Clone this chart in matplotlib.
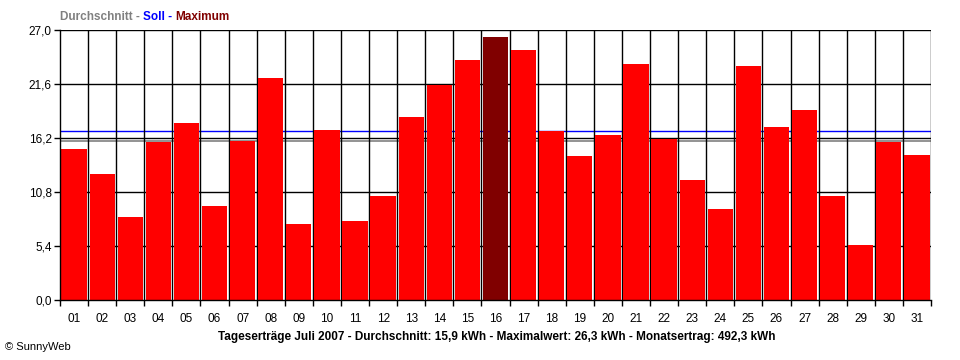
import numpy as np
import matplotlib
matplotlib.use("Agg")
import matplotlib.pyplot as plt
from matplotlib.ticker import FixedLocator, FuncFormatter

plt.rcParams['font.family'] = ['Liberation Sans', 'DejaVu Sans']

# Tageserträge Juli 2007 (kWh)
days = ["%02d" % d for d in range(1, 32)]
ertrag = [15.1, 12.6, 8.3, 15.8, 17.7, 9.4, 15.9, 22.2, 7.6, 17.0,
          7.9, 10.4, 18.3, 21.5, 24.0, 26.3, 25.0, 16.9, 14.4, 16.5,
          23.6, 16.1, 12.0, 9.1, 23.4, 17.3, 19.0, 10.4, 5.5, 15.8, 14.5]
durchschnitt = 15.9
soll = 16.9
yticks = [0.0, 5.4, 10.8, 16.2, 21.6, 27.0]

fig = plt.figure(figsize=(9.6, 3.6), dpi=100)
ax = fig.add_axes([60/960, 60/360, 871/960, 270/360])

x = np.arange(1, len(days) + 1)
imax = int(np.argmax(ertrag))
colors = ["#800000" if i == imax else "#FF0000" for i in range(len(ertrag))]

# grid
for yv in yticks[1:]:
    ax.axhline(yv, color="black", lw=1.0, zorder=1)
ax.axhline(soll, color="#0000FF", lw=1.0, zorder=1)
ax.axhline(durchschnitt, color="#808080", lw=1.2, zorder=1)
for xv in np.arange(1.5, len(days) + 0.5, 1):
    ax.axvline(xv, color="black", lw=1.0, zorder=1)
ax.axvline(len(days) + 0.5, color="black", lw=1.0, zorder=1)

ax.bar(x, ertrag, width=0.9, color=colors, zorder=2)

ax.set_xlim(0.5, len(days) + 0.5)
ax.set_ylim(0, 27.0)
ax.set_xticks(x)
ax.set_xticklabels(days)
ax.xaxis.set_minor_locator(FixedLocator(np.arange(0.5, len(days) + 1.5, 1)))
ax.tick_params(axis="x", which="major", length=0, pad=9, labelsize=8.5)
ax.tick_params(axis="x", which="minor", length=4, direction="out", width=1)
ax.set_yticks(yticks)
ax.yaxis.set_major_formatter(FuncFormatter(lambda v, p: ("%.1f" % v).replace(".", ",")))
ax.tick_params(axis="y", length=4, width=1, labelsize=8.5, pad=2)

for s in ["top", "right"]:
    ax.spines[s].set_visible(False)
for s in ["left", "bottom"]:
    ax.spines[s].set_color("black")
    ax.spines[s].set_linewidth(1.0)
    ax.spines[s].set_zorder(3)

# legend style header
t1 = fig.text(60/960, 1 - 17/360, "Durchschnitt - ", color="#808080",
              fontsize=8.5, fontweight="bold", va="center")
fig.canvas.draw()
r = fig.canvas.get_renderer()
bb = t1.get_window_extent(r)
t2 = fig.text(bb.x1/960, 1 - 17/360, "Soll - ", color="#0000FF",
              fontsize=8.5, fontweight="bold", va="center")
bb = t2.get_window_extent(r)
fig.text(bb.x1/960, 1 - 17/360, "Maximum", color="#800000",
         fontsize=8.5, fontweight="bold", va="center")

fig.text(497/960, 1 - 337/360,
         "Tageserträge Juli 2007 - Durchschnitt: 15,9 kWh - Maximalwert: 26,3 kWh - Monatsertrag: 492,3 kWh",
         ha="center", va="center", fontsize=8.5, fontweight="bold")
fig.text(5/960, 1 - 347/360, "© SunnyWeb", ha="left", va="center", fontsize=8)

fig.savefig("out.png", dpi=100)
